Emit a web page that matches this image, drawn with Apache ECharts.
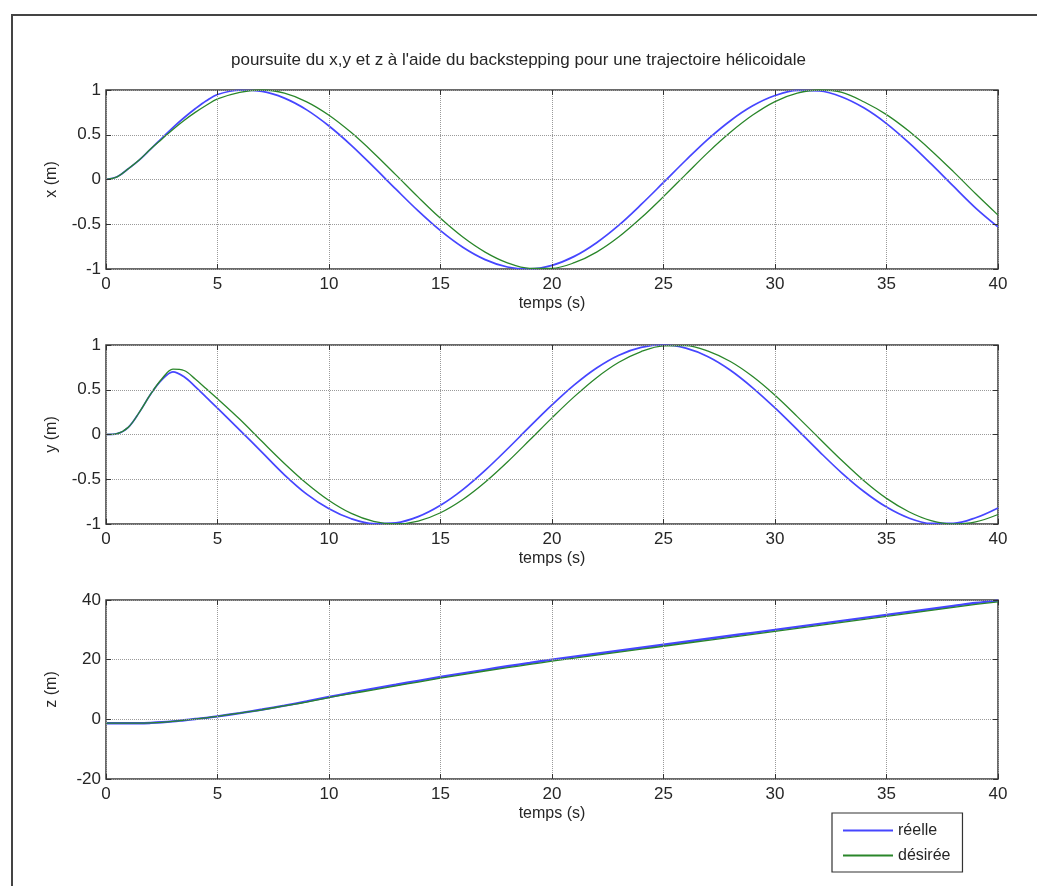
<!DOCTYPE html>
<html>
<head>
<meta charset="utf-8">
<script src="https://cdn.jsdelivr.net/npm/echarts@6/dist/echarts.min.js"></script>
<style>
html,body{margin:0;padding:0;background:#fff;}
#chart{width:1037px;height:886px;}
</style>
</head>
<body>
<div id="chart"></div>
<script>
// ---- data ----
var T = [0,0.5,1,1.5,2,2.5,3,3.5,4,4.5,5,6,7,8,9,10,11,12,13,14,15,16,17,18,19,20,21,22,23,24,25,26,27,28,29,30,31,32,33,34,35,36,37,38,39,40];

var xReelle = [0,0.03,0.12,0.22,0.34,0.46,0.58,0.69,0.79,0.88,0.95,0.997,0.984,0.909,0.778,0.598,0.382,0.141,-0.108,-0.351,-0.572,-0.757,-0.895,-0.978,-0.999,-0.959,-0.859,-0.706,-0.510,-0.279,-0.033,0.215,0.451,0.657,0.823,0.938,0.995,0.989,0.922,0.798,0.625,0.412,0.174,-0.075,-0.319,-0.53];
var xDesiree = [0,0.03,0.12,0.22,0.34,0.45,0.56,0.66,0.75,0.83,0.90,0.974,1.0,0.964,0.868,0.718,0.524,0.297,0.052,-0.197,-0.434,-0.643,-0.811,-0.931,-0.992,-0.992,-0.930,-0.811,-0.640,-0.428,-0.191,0.057,0.303,0.527,0.720,0.871,0.965,1.0,0.973,0.866,0.725,0.541,0.325,0.088,-0.160,-0.398];

var yReelle = [0,0.01,0.08,0.25,0.45,0.61,0.70,0.645,0.535,0.415,0.295,0.05,-0.20,-0.45,-0.666,-0.830,-0.942,-0.996,-0.987,-0.918,-0.791,-0.616,-0.401,-0.162,0.087,0.330,0.554,0.743,0.886,0.973,1.0,0.965,0.869,0.718,0.522,0.297,0.054,-0.194,-0.431,-0.640,-0.811,-0.933,-0.994,-0.993,-0.930,-0.82];
var yDesiree = [0,0.01,0.08,0.25,0.45,0.62,0.73,0.715,0.62,0.51,0.40,0.17,-0.079,-0.323,-0.547,-0.737,-0.882,-0.971,-1.0,-0.967,-0.874,-0.726,-0.533,-0.307,-0.062,0.186,0.423,0.635,0.807,0.927,0.991,0.993,0.932,0.815,0.647,0.438,0.200,-0.047,-0.291,-0.519,-0.714,-0.863,-0.962,-1.0,-0.977,-0.894];

var zReelle = [-1.3,-1.3,-1.3,-1.3,-1.2,-1.0,-0.7,-0.3,0.1,0.5,1.0,2.1,3.3,4.6,6.0,7.5,8.9,10.3,11.6,12.9,14.2,15.4,16.6,17.8,18.9,20.0,21.0,22.0,23.0,24.0,25.0,26.0,27.0,28.0,29.0,30.0,31.0,32.0,33.0,34.0,35.0,36.0,37.0,38.0,39.0,39.8];
var zDesiree = [-1.3,-1.3,-1.3,-1.3,-1.2,-1.0,-0.7,-0.3,0.1,0.5,1.0,2.1,3.2,4.5,5.8,7.3,8.6,9.9,11.2,12.5,13.8,15.0,16.2,17.3,18.4,19.5,20.5,21.5,22.5,23.5,24.5,25.5,26.5,27.5,28.5,29.5,30.5,31.5,32.5,33.5,34.5,35.5,36.5,37.5,38.5,39.4];

var seriesNames = ['réelle','désirée'];
var yNames = ['x (m)','y (m)','z (m)'];
var xName = 'temps (s)';
var titleText = "poursuite du x,y et z à l'aide du backstepping pour une trajectoire hélicoidale";
var yRanges = [[-1,1,0.5],[-1,1,0.5],[-20,40,20]];
var xRange = [0,40,5];

// ---- chart ----
var FONT = 'Liberation Sans, Arial, sans-serif';
var TXT = '#262626';
var BLUE = '#4646ff', GREEN = '#2a862a';
var gridTops = [90,345,600];
var GH = 179;

function pairs(a){ return T.map(function(t,i){ return [t,a[i]]; }); }

function tickStyle(){ return {show:true, inside:true, length:5, lineStyle:{color:'#333', width:1}}; }
function gridLine(){ return {show:true, lineStyle:{type:'dotted', color:'#9a9a9a', width:1}}; }
var grids = [], xAxes = [], yAxes = [], series = [];
for (var g=0; g<3; g++){
  grids.push({left:106, right:39, top:gridTops[g], height:GH, show:true,
    borderColor:'#3a3a3a', borderWidth:1.5, backgroundColor:'#fff', containLabel:false});
}
for (var g=0; g<3; g++){
  xAxes.push({type:'value', gridIndex:g, min:xRange[0], max:xRange[1], interval:xRange[2], position:'bottom',
    name:xName, nameLocation:'middle', nameGap:27,
    nameTextStyle:{fontFamily:FONT, fontSize:16, color:TXT},
    axisLine:{show:false, onZero:false}, axisTick:tickStyle(),
    axisLabel:{fontFamily:FONT, fontSize:17, color:TXT, margin:7},
    splitLine:gridLine(), z:5});
}
for (var g=0; g<3; g++){
  xAxes.push({type:'value', gridIndex:g, min:xRange[0], max:xRange[1], interval:xRange[2], position:'top',
    axisLine:{show:false, onZero:false}, axisTick:tickStyle(),
    axisLabel:{show:false}, splitLine:{show:false}, z:5});
}
for (var g=0; g<3; g++){
  yAxes.push({type:'value', gridIndex:g, min:yRanges[g][0], max:yRanges[g][1], interval:yRanges[g][2], position:'left',
    name:yNames[g], nameLocation:'middle', nameGap:46, nameRotate:90,
    nameTextStyle:{fontFamily:FONT, fontSize:16, color:TXT},
    axisLine:{show:false, onZero:false}, axisTick:tickStyle(),
    axisLabel:{fontFamily:FONT, fontSize:17, color:TXT, margin:5},
    splitLine:gridLine(), z:5});
}
for (var g=0; g<3; g++){
  yAxes.push({type:'value', gridIndex:g, min:yRanges[g][0], max:yRanges[g][1], interval:yRanges[g][2], position:'right',
    axisLine:{show:false, onZero:false}, axisTick:tickStyle(),
    axisLabel:{show:false}, splitLine:{show:false}, z:5});
}
var reel = [xReelle,yReelle,zReelle], des = [xDesiree,yDesiree,zDesiree];
for (var g=0; g<3; g++){
  series.push({name:seriesNames[0], type:'line', xAxisIndex:g, yAxisIndex:g, data:pairs(reel[g]),
    smooth:0.35, symbol:'none', color:BLUE, lineStyle:{color:BLUE, width:g===2?2.4:1.7}, z:3});
  series.push({name:seriesNames[1], type:'line', xAxisIndex:g, yAxisIndex:g, data:pairs(des[g]),
    smooth:0.35, symbol:'none', color:GREEN, lineStyle:{color:GREEN, width:1.3}, z:4});
}

var chart = echarts.init(document.getElementById('chart'), null, {renderer:'canvas'});
chart.setOption({
  animation:false,
  backgroundColor:'#fff',
  title:{text:titleText, left:'center', top:47,
    textStyle:{fontFamily:FONT, fontSize:17, fontWeight:'normal', color:TXT}},
  legend:{data:seriesNames, orient:'vertical', left:832, top:813,
    padding:[8,12,7,11], itemGap:6, itemWidth:50, itemHeight:2, icon:'rect',
    borderColor:'#333', borderWidth:1.2, backgroundColor:'#fff',
    textStyle:{fontFamily:FONT, fontSize:16, color:TXT, lineHeight:19}},
  grid:grids, xAxis:xAxes, yAxis:yAxes, series:series,
  graphic:[
    {type:'polyline', shape:{points:[[12,886],[12,15],[1037,15]]}, style:{stroke:'#444', lineWidth:2, fill:null}, silent:true}
  ]
});
</script>
</body>
</html>
